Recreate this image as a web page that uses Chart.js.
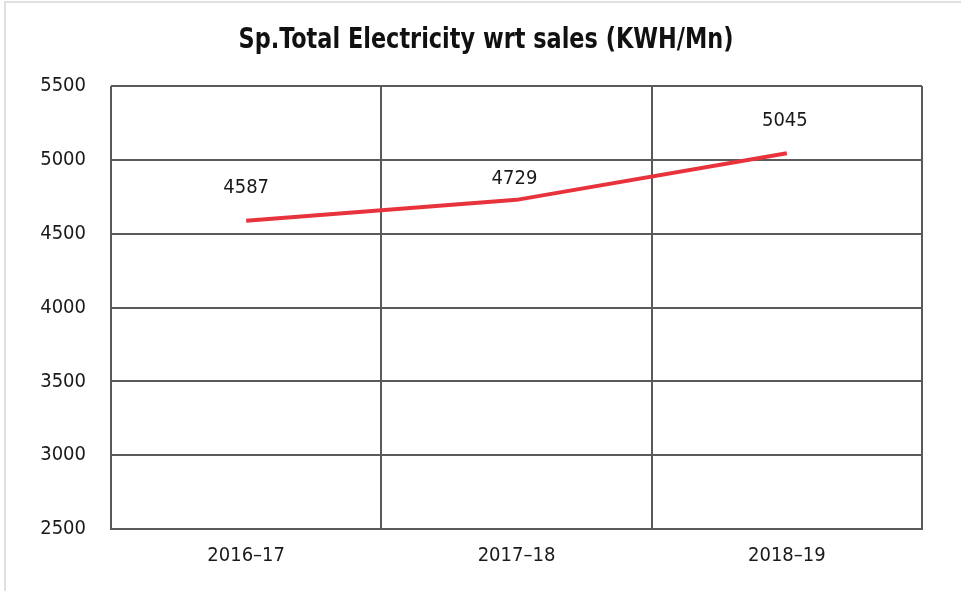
<!DOCTYPE html>
<html>
<head>
<meta charset="utf-8">
<script src="https://cdn.jsdelivr.net/npm/chart.js@4.4.0/dist/chart.umd.min.js"></script>
<style>
  body { margin: 0; background: #fff; }
  #wrap { position: relative; width: 961px; height: 591px; }
  #frame { position: absolute; left: 4px; top: 1px; right: 0; bottom: 0;
           border-top: 2px solid #e0e0e0; border-left: 2px solid #e0e0e0; pointer-events: none; }
  canvas { position: absolute; left: 0; top: 0; }
</style>
</head>
<body>
<div id="wrap">
  <canvas id="myChart" width="961" height="591"></canvas>
  <div id="frame"></div>
</div>
<script>
// years and specific electricity (KWH per Mn sales)
var years = ["2016\u201317", "2017\u201318", "2018\u201319"];
var electricity = [4587, 4729, 5045];
var yMin = 2500;
var yMax = 5500;
var yStep = 500;
var titleText = "Sp.Total Electricity wrt sales (KWH/Mn)";

var fontFam = "'Liberation Sans Narrow', 'DejaVu Sans Condensed', 'Liberation Sans', sans-serif";

// title + value labels, drawn by hand so the title can be squeezed like the original
const extras = {
  id: "extras",
  afterDatasetsDraw(chart) {
    const ctx = chart.ctx;
    const meta = chart.getDatasetMeta(0);
    ctx.save();
    // title
    ctx.font = "bold 28px " + fontFam;
    ctx.fillStyle = "#111";
    ctx.textAlign = "center";
    ctx.textBaseline = "middle";
    var w = ctx.measureText(titleText).width;
    var sx = Math.min(1, 495 / w);
    ctx.translate(486, 41);
    ctx.scale(sx, 1);
    ctx.fillText(titleText, 0, 0);
    ctx.restore();

    // value labels above each point
    var lift = [33, 21, 32];
    ctx.save();
    ctx.font = "20px " + fontFam;
    ctx.fillStyle = "#1a1a1a";
    ctx.textAlign = "center";
    ctx.textBaseline = "middle";
    meta.data.forEach(function (pt, i) {
      ctx.fillText(String(electricity[i]), pt.x - (i ? 2 : 0), pt.y - lift[i]);
    });
    ctx.restore();
  }
};

const chart = new Chart("myChart", {
  type: "line",
  data: {
    labels: years,
    datasets: [{
      data: electricity,
      borderColor: "#e8333c",
      borderWidth: 4,
      pointRadius: 0,
      tension: 0,
      fill: false
    }]
  },
  options: {
    responsive: false,
    animation: false,
    layout: { padding: { left: 0, right: 39, top: 86, bottom: 0 } },
    plugins: {
      legend: { display: false },
      tooltip: { enabled: false },
      title: { display: false }
    },
    scales: {
      y: {
        min: yMin,
        max: yMax,
        afterFit: function (s) { s.width = 111; },
        ticks: {
          stepSize: yStep,
          padding: 25,
          color: "#1a1a1a",
          font: { family: fontFam, size: 20 },
          callback: function (v) { return String(v); }
        },
        grid: { color: "#5a5a5a", lineWidth: 2, drawTicks: false },
        border: { display: false }
      },
      x: {
        offset: true,
        afterFit: function (s) { s.height = 62; },
        ticks: {
          padding: 15,
          color: "#1a1a1a",
          font: { family: fontFam, size: 20 }
        },
        grid: { color: "#5a5a5a", lineWidth: 2, drawTicks: false, offset: true },
        border: { display: true, color: "#5a5a5a", width: 2 }
      }
    }
  },
  plugins: [extras]
});
</script>
</body>
</html>
